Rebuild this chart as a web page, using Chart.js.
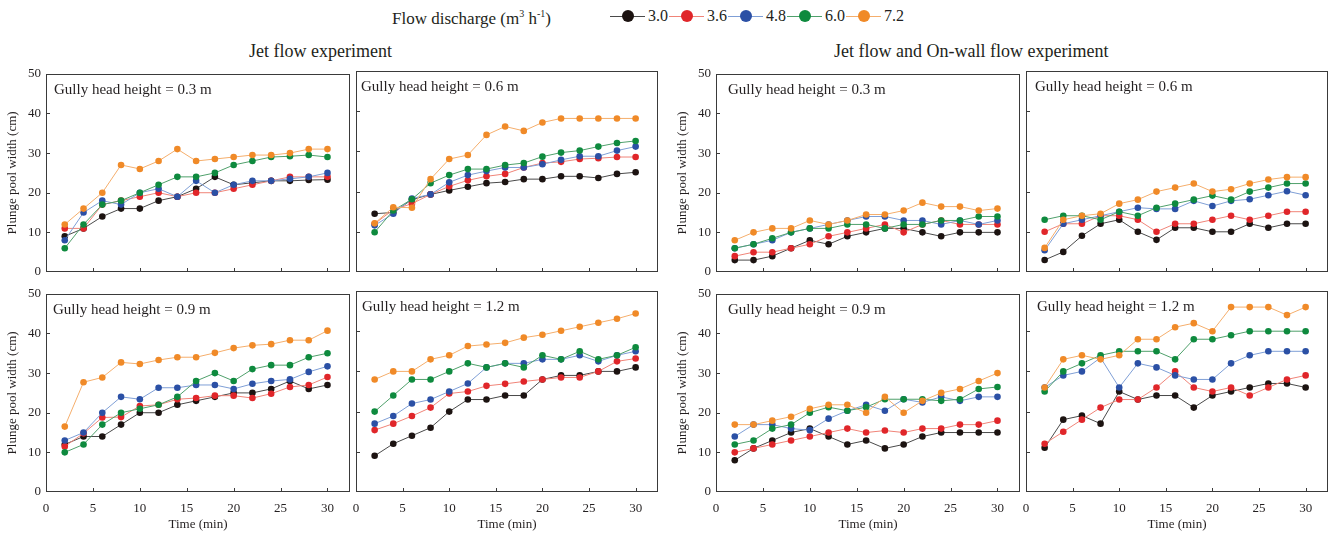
<!DOCTYPE html>
<html lang="en">
<head>
<meta charset="UTF-8">
<title>Plunge pool width</title>
<script src="https://cdn.jsdelivr.net/npm/chart.js"></script>
<style>
  body {
    margin: 0;
    background: #fff;
    width: 1334px;
    height: 535px;
    overflow: hidden;
    position: relative;
    font-family: "Liberation Serif", "Times New Roman", serif;
    color: #231f20;
  }
  canvas { position: absolute; }
  .txt { position: absolute; white-space: nowrap; line-height: 1; }
  #legend { position: absolute; left: 610px; top: 6px; height: 20px; display: flex; align-items: center; }
  .lg-line { position: relative; width: 35px; height: 1px; }
  .lg-dot { position: absolute; left: 12px; top: -6px; width: 12px; height: 12px; border-radius: 50%; }
  .lg-txt { font-size: 16px; margin: 0 1px 0 3px; }
</style>
</head>
<body>
  <div class="txt" style="left:392px;top:9px;font-size:17px;">Flow discharge (m<sup style="font-size:10px">3</sup> h<sup style="font-size:10px">-1</sup>)</div>
  <div id="legend"></div>
  <div class="txt" style="left:249px;top:42px;font-size:18px;">Jet flow experiment</div>
  <div class="txt" style="left:834px;top:42px;font-size:18px;">Jet flow and On-wall flow experiment</div>

<script>
// time steps (min) and flow discharges
const times = [2, 4, 6, 8, 10, 12, 14, 16, 18, 20, 22, 24, 26, 28, 30];
const flows = ['3.0', '3.6', '4.8', '6.0', '7.2'];
const pointColors = ['#1c1311', '#e0262a', '#2b50a5', '#0e8a3e', '#f08a28'];
const lineColors = ['#4a4a4a', '#f08478', '#7f9fd6', '#4fa06b', '#f5ae6c'];
const xTicks = [5, 10, 15, 20, 25, 30];
const yTicks = [10, 20, 30, 40];

// plunge pool width (cm), rows = 3.0, 3.6, 4.8, 6.0, 7.2
// Jet flow experiment
const jet03 = [
  [9, 11, 14, 16, 16, 18, 19, 21, 24, 22, 22.5, 23, 23, 23.2, 23.3],
  [11, 11, 17, 18, 19, 20, 19, 20, 20, 21, 22, 23, 24, 24, 24],
  [8, 15, 18, 17, 20, 21, 19, 23, 20, 22, 23, 23, 23.5, 24, 25],
  [6, 12, 17, 18, 20, 22, 24, 24, 25, 27, 28, 29, 29.2, 29.5, 29],
  [12, 16, 20, 27, 26, 28, 31, 28, 28.5, 29, 29.5, 29.5, 30, 31, 31]
];
const jet06 = [
  [14.5, 14.8, 18, 19.3, 20.3, 21.2, 22.1, 22.4, 23.1, 23.1, 23.8, 23.8, 23.4, 24.4, 24.8],
  [12, 15.5, 17, 19.3, 21.3, 22.8, 23.8, 24.4, 26, 27.1, 27.4, 28.1, 28.3, 28.6, 28.6],
  [11.6, 14.5, 18.3, 19.3, 22.3, 24.1, 25.1, 26, 26, 26.8, 27.9, 28.8, 28.8, 30.2, 31.2],
  [9.9, 15.3, 18.1, 22.1, 24.1, 25.6, 25.6, 26.6, 27.1, 28.7, 29.7, 30.2, 31.2, 32.1, 32.6],
  [12.1, 16.1, 16, 23.1, 28.1, 29.1, 34.1, 36.2, 35.1, 37.2, 38.2, 38.2, 38.2, 38.2, 38.2]
];
const jet09 = [
  [12, 14, 14, 17, 20, 20, 22, 23, 24, 25, 25, 26, 28, 26, 27],
  [11.5, 14.8, 18.8, 18.9, 21.7, 22, 23.4, 23.7, 24.3, 24.3, 23.7, 24.8, 26.5, 27, 29],
  [13, 15, 20, 24, 23.4, 26.3, 26.3, 27, 27, 26, 27.3, 28, 28.4, 30.3, 31.7],
  [10, 12, 17, 20, 21, 22, 24, 28, 30, 28, 31, 32, 32, 34, 35],
  [16.5, 27.7, 28.9, 32.7, 32.3, 33.3, 34, 34, 35.1, 36.3, 37, 37.3, 38.3, 38.3, 40.7]
];
const jet12 = [
  [9, 12, 14, 16, 20, 23, 23, 24, 24, 28, 29, 29, 30, 30, 31],
  [15.4, 17, 18.9, 21, 24.5, 25, 26.4, 26.9, 27.5, 28, 28.5, 28.5, 30, 32.5, 33.2],
  [17, 18.9, 22, 23, 25, 27, 31, 32, 32, 33, 33, 34, 32.5, 34, 35],
  [20, 24, 28, 28, 30, 32, 31, 32, 31, 34, 33, 35, 33, 34, 36],
  [28, 30, 30, 33, 34, 36.3, 36.7, 37.1, 38.4, 39.1, 40.1, 41.1, 42.1, 43.1, 44.4]
];
// Jet flow and On-wall flow experiment
const wall03 = [
  [3, 3, 4, 6, 8, 7, 9, 10, 11, 11, 10, 9, 10, 10, 10],
  [4, 5, 5, 6, 7, 9, 10, 11, 12, 10, 12, 13, 12, 12, 12],
  [6, 7, 8, 10, 11, 12, 13, 14, 14, 13, 13, 12, 13, 12, 13],
  [6, 7, 8.5, 10, 11, 11, 12, 12, 11, 12, 12, 13, 13, 14, 14],
  [8, 10, 11, 11, 13, 12, 13, 14.5, 14.5, 15.5, 17.5, 16.5, 16.5, 15.5, 16]
];
const wall06 = [
  [3, 5, 9, 12, 13, 10, 8, 11, 11, 10, 10, 12, 11, 12, 12],
  [10, 12, 12, 14, 14, 13, 10, 12, 12, 13, 14, 13, 14, 15, 15],
  [5.4, 12, 13, 14, 15, 16, 15.7, 15.7, 17.7, 16.4, 17.7, 18.1, 19.1, 20.1, 19.1],
  [13, 14, 14, 13, 15, 14, 16, 17, 18, 19, 18, 20, 21, 22, 22],
  [6, 13, 14, 14.5, 17, 18, 20, 21, 22, 20, 20.6, 22, 23, 23.6, 23.6]
];
const wall09 = [
  [8, 11, 13, 15, 16, 14, 12, 13, 11, 12, 14, 15, 15, 15, 15],
  [10, 11, 12, 13, 14, 15, 16, 15, 15.5, 15, 16, 16, 17, 17, 18],
  [14, 17, 17, 16, 15.6, 18.5, 20.5, 22, 20.5, 23.4, 22.6, 24, 23, 24, 24],
  [12, 13, 16, 17, 20, 21.4, 20.5, 21.4, 23.4, 23.4, 23.4, 23, 23.4, 26, 26.5],
  [17, 17, 18, 19, 21, 22, 22, 20, 24, 20, 23, 25, 26, 28, 30]
];
const wall12 = [
  [11, 18, 19, 17, 25, 23, 24, 24, 21, 24, 25, 26, 27, 27, 26],
  [12, 15, 18, 21, 23, 23, 26, 30, 26, 25, 26, 24, 26, 28, 29],
  [26, 29, 30, 33.4, 26, 32, 31, 29, 28, 28, 32, 34, 35, 35, 35],
  [25, 30, 32, 34, 35, 35, 35, 33, 38, 38, 39, 40, 40, 40, 40],
  [26, 33, 34, 33, 34, 38, 38, 41, 42, 40, 46, 46, 46, 44, 46]
];

const panels = [
  { data: jet03,  label: 'Gully head height = 0.3 m', left: 0,   top: 61,  w: 356, yLab: true,  xLab: false, dx: 8 },
  { data: jet06,  label: 'Gully head height = 0.6 m', left: 310, top: 61,  w: 354, yLab: false, xLab: false, dx: 5 },
  { data: wall03, label: 'Gully head height = 0.3 m', left: 670, top: 61,  w: 356, yLab: true,  xLab: false, dx: 12 },
  { data: wall06, label: 'Gully head height = 0.6 m', left: 980, top: 61,  w: 354, yLab: false, xLab: false, dx: 9 },
  { data: jet09,  label: 'Gully head height = 0.9 m', left: 0,   top: 281, w: 356, yLab: true,  xLab: true,  dx: 7 },
  { data: jet12,  label: 'Gully head height = 1.2 m', left: 310, top: 281, w: 354, yLab: false, xLab: true,  dx: 6 },
  { data: wall09, label: 'Gully head height = 0.9 m', left: 670, top: 281, w: 356, yLab: true,  xLab: true,  dx: 12 },
  { data: wall12, label: 'Gully head height = 1.2 m', left: 980, top: 281, w: 354, yLab: false, xLab: true,  dx: 11 }
];

// legend
const legend = document.getElementById('legend');
flows.forEach((f, i) => {
  legend.insertAdjacentHTML('beforeend',
    `<span class="lg-line" style="background:${lineColors[i]}"><span class="lg-dot" style="background:${pointColors[i]}"></span></span>` +
    `<span class="lg-txt">${f}</span>`);
});

const serif = '"Liberation Serif", "Times New Roman", serif';
const textColor = '#231f20';

// box around plot area with inward tick marks, plus the panel label
const framePlugin = {
  id: 'frame',
  beforeDatasetsDraw(chart) {
    const { ctx, chartArea: a, scales } = chart;
    ctx.save();
    ctx.strokeStyle = '#3a3a3a';
    ctx.lineWidth = 1;
    ctx.strokeRect(Math.round(a.left) + 0.5, Math.round(a.top) + 0.5,
                   Math.round(a.right - a.left) - 1, Math.round(a.bottom - a.top) - 1);
    ctx.beginPath();
    xTicks.forEach(v => {
      const x = Math.round(scales.x.getPixelForValue(v)) + 0.5;
      ctx.moveTo(x, a.bottom);
      ctx.lineTo(x, a.bottom - 4);
    });
    yTicks.forEach(v => {
      const y = Math.round(scales.y.getPixelForValue(v)) + 0.5;
      ctx.moveTo(a.left, y);
      ctx.lineTo(a.left + 4, y);
    });
    ctx.stroke();
    ctx.restore();
  },
  afterDraw(chart, args, opts) {
    const { ctx, chartArea: a } = chart;
    ctx.save();
    ctx.fillStyle = textColor;
    ctx.font = '15px ' + serif;
    ctx.textBaseline = 'middle';
    ctx.fillText(opts.text, a.left + opts.dx, a.top + 16);
    ctx.restore();
  }
};

panels.forEach(p => {
  const cv = document.createElement('canvas');
  cv.width = p.w;
  cv.height = 256;
  cv.style.left = p.left + 'px';
  cv.style.top = p.top + 'px';
  cv.style.width = p.w + 'px';
  cv.style.height = '256px';
  document.body.appendChild(cv);

  new Chart(cv, {
    type: 'line',
    data: {
      datasets: p.data.map((vals, i) => ({
        label: flows[i],
        data: times.map((t, j) => ({ x: t, y: vals[j] })),
        borderColor: lineColors[i],
        borderWidth: 1,
        pointBackgroundColor: pointColors[i],
        pointBorderColor: pointColors[i],
        pointBorderWidth: 0,
        pointRadius: 3.3,
        tension: 0,
        order: 4 - i
      }))
    },
    options: {
      responsive: false,
      animation: false,
      devicePixelRatio: 1,
      layout: { padding: { top: 10, right: 6, left: 0, bottom: 0 } },
      plugins: {
        legend: { display: false },
        tooltip: { enabled: false },
        frame: { text: p.label, dx: p.dx }
      },
      scales: {
        x: {
          type: 'linear',
          min: 0,
          max: 32.4,
          afterFit: s => { s.height = 45; },
          grid: { display: false, drawTicks: false },
          border: { display: false },
          ticks: {
            display: p.xLab, stepSize: 5, includeBounds: false, padding: 9,
            maxRotation: 0, color: textColor, font: { family: serif, size: 13 }
          },
          title: {
            display: p.xLab, text: 'Time (min)', color: textColor,
            padding: { top: 0, bottom: 5 }, font: { family: serif, size: 13 }
          }
        },
        y: {
          min: 0,
          max: 50,
          afterFit: s => { s.width = 46; },
          grid: { display: false, drawTicks: false },
          border: { display: false },
          ticks: {
            display: p.yLab, stepSize: 10, padding: 5,
            color: textColor, font: { family: serif, size: 13 }
          },
          title: {
            display: p.yLab, text: 'Plunge pool width (cm)', color: textColor,
            padding: { top: 5, bottom: 0 }, font: { family: serif, size: 13 }
          }
        }
      }
    },
    plugins: [framePlugin]
  });
});
</script>
</body>
</html>
